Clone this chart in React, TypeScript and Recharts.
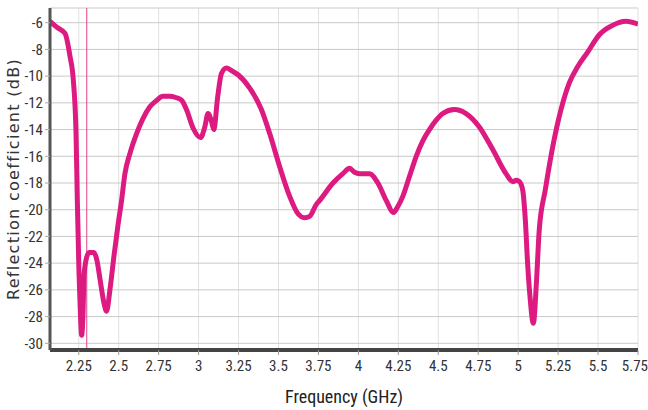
import React from "react";
import {
  LineChart,
  Line,
  XAxis,
  YAxis,
  CartesianGrid,
  ReferenceLine,
} from "recharts";

// Measured S11 sweep: frequency in GHz and reflection coefficient in dB
const freqGHz = [
  2.07, 2.12, 2.164, 2.195, 2.216, 2.233, 2.241, 2.251, 2.261, 2.268, 2.276,
  2.283, 2.295, 2.314, 2.345, 2.364, 2.383, 2.408, 2.424, 2.445, 2.47, 2.495,
  2.518, 2.539, 2.57, 2.612, 2.651, 2.695, 2.739, 2.776, 2.82, 2.857, 2.893,
  2.924, 2.966, 3.012, 3.039, 3.059, 3.081, 3.095, 3.12, 3.143, 3.174, 3.208,
  3.247, 3.32, 3.393, 3.445, 3.508, 3.57, 3.622, 3.664, 3.695, 3.737, 3.758,
  3.841, 3.903, 3.945, 3.976, 4.008, 4.07, 4.122, 4.174, 4.22, 4.245, 4.278,
  4.32, 4.362, 4.401, 4.445, 4.487, 4.528, 4.601, 4.674, 4.757, 4.841, 4.924,
  4.966, 4.989, 5.008, 5.028, 5.045, 5.059, 5.074, 5.095, 5.115, 5.132, 5.17,
  5.216, 5.268, 5.32, 5.372, 5.435, 5.508, 5.591, 5.675, 5.75,
];

const s11dB = [
  -5.9, -6.4, -6.8, -8.5, -10.3, -14.3, -19.3, -24.5, -28.0, -29.4, -28.0,
  -25.0, -23.8, -23.2, -23.2, -23.8, -25.2, -27.0, -27.6, -26.0, -23.5, -21.2,
  -19.3, -17.3, -15.8, -14.3, -13.2, -12.3, -11.8, -11.5, -11.5, -11.6, -11.8,
  -12.5, -13.9, -14.6, -13.8, -12.8, -13.4, -14.0, -11.5, -9.8, -9.4, -9.6,
  -9.9, -10.9, -12.5, -14.3, -16.8, -19.0, -20.3, -20.6, -20.5, -19.6, -19.3,
  -18.0, -17.3, -16.9, -17.2, -17.3, -17.3, -18.0, -19.3, -20.2, -19.8, -19.0,
  -17.5, -16.0, -14.9, -14.0, -13.3, -12.8, -12.5, -12.8, -13.8, -15.5, -17.3,
  -17.9, -17.8, -17.9, -18.5, -20.8, -24.0, -26.5, -28.5, -25.3, -21.5, -18.5,
  -15.3, -12.5, -10.5, -9.3, -8.2, -6.9, -6.2, -5.9, -6.1,
];

const xTicks = [
  2.25, 2.5, 2.75, 3, 3.25, 3.5, 3.75, 4, 4.25, 4.5, 4.75, 5, 5.25, 5.5, 5.75,
];
const yTicks = [-30, -28, -26, -24, -22, -20, -18, -16, -14, -12, -10, -8, -6];

const markerFreq = 2.3;

const data = freqGHz.map((f, i) => ({ f, s11: s11dB[i] }));

const narrow = "'Liberation Sans Narrow', 'Roboto Condensed', 'Liberation Sans', sans-serif";
const pink = "#dc1a80";

export default function App() {
  return (
    <div style={{ position: "absolute", left: 0, top: 0, width: 648, height: 410, background: "#fff" }}>
      <LineChart
        width={648}
        height={410}
        data={data}
        margin={{ top: 8, right: 10, left: 0, bottom: 0 }}
      >
        {/* vertical grid lighter, horizontal grid a bit darker */}
        <CartesianGrid stroke="#e0e0e0" strokeWidth={1} horizontal={false} />
        <CartesianGrid stroke="#c9c9c9" strokeWidth={1} vertical={false} />
        <XAxis
          dataKey="f"
          type="number"
          domain={[2.07, 5.75]}
          ticks={xTicks}
          allowDataOverflow
          height={60}
          tick={{ fill: "#333", fontSize: 15, fontFamily: narrow }}
          tickLine={{ stroke: "#999" }}
          tickSize={5}
          tickMargin={5}
          axisLine={{ stroke: "#444", strokeWidth: 4 }}
          label={{
            value: "Frequency (GHz)",
            position: "insideBottom",
            offset: 7,
            fill: "#222",
            fontSize: 18,
            fontFamily: narrow,
          }}
        />
        <XAxis
          xAxisId="top"
          dataKey="f"
          type="number"
          domain={[2.07, 5.75]}
          orientation="top"
          height={0}
          tick={false}
          tickLine={false}
          axisLine={{ stroke: "#555", strokeWidth: 2 }}
        />
        <YAxis
          type="number"
          domain={[-30.5, -4.9]}
          ticks={yTicks}
          allowDataOverflow
          width={50}
          tick={{ fill: "#333", fontSize: 15, fontFamily: narrow }}
          tickLine={{ stroke: "#aaa" }}
          tickSize={5}
          tickMargin={2}
          axisLine={{ stroke: "#555", strokeWidth: 3 }}
          label={{
            value: "Reflection coefficient (dB)",
            angle: -90,
            position: "insideLeft",
            offset: 13,
            style: { textAnchor: "middle" },
            fill: "#333",
            fontSize: 16,
            letterSpacing: 1.3,
            fontFamily: "'DejaVu Sans', Verdana, sans-serif",
          }}
        />
        <YAxis
          yAxisId="right"
          orientation="right"
          type="number"
          domain={[-30.5, -4.9]}
          width={0}
          tick={false}
          tickLine={false}
          axisLine={{ stroke: "#666", strokeWidth: 2 }}
        />
        <ReferenceLine x={markerFreq} stroke="#e0408a" strokeWidth={1} />
        <Line
          type="monotone"
          dataKey="s11"
          stroke={pink}
          strokeWidth={5}
          dot={false}
          isAnimationActive={false}
        />
      </LineChart>
    </div>
  );
}
